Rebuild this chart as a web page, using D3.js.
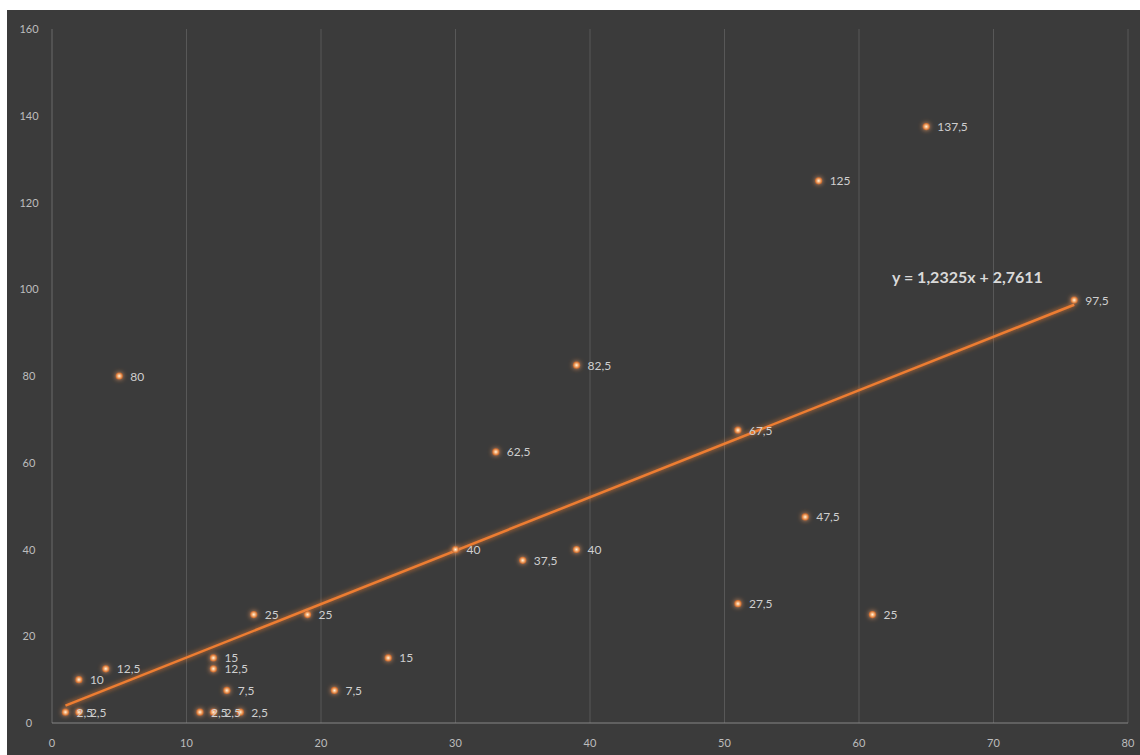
<!DOCTYPE html>
<html><head><meta charset="utf-8">
<script src="https://cdn.jsdelivr.net/npm/d3@7"></script>
<style>html,body{margin:0;padding:0;background:#fff;overflow:hidden}</style>
</head><body>
<svg id="c" width="1140" height="755"></svg>
<script>
const xValues = [1, 2, 2, 4, 5, 11, 12, 12, 12, 13, 14, 15, 19, 21, 25, 30, 33, 35, 39, 39, 51, 51, 56, 57, 61, 65, 76];
const yValues = [2.5, 2.5, 10, 12.5, 80, 2.5, 2.5, 15, 12.5, 7.5, 2.5, 25, 25, 7.5, 15, 40, 62.5, 37.5, 82.5, 40, 67.5, 27.5, 47.5, 125, 25, 137.5, 97.5];
const xTicks = [0, 10, 20, 30, 40, 50, 60, 70, 80];
const yTicks = [0, 20, 40, 60, 80, 100, 120, 140, 160];
const slope = 1.2325, intercept = 2.7611;
const equationLabel = "y = 1,2325x + 2,7611";

const svg = d3.select("#c");
const defs = svg.append("defs");
const glow = defs.append("filter").attr("id","glow").attr("x","-100%").attr("y","-100%").attr("width","300%").attr("height","300%");
glow.append("feGaussianBlur").attr("stdDeviation",2.5).attr("result","b");
const m = glow.append("feMerge"); m.append("feMergeNode").attr("in","b"); m.append("feMergeNode").attr("in","SourceGraphic");
const rg = defs.append("radialGradient").attr("id","dot");
rg.append("stop").attr("offset","0%").attr("stop-color","#fff4e0");
rg.append("stop").attr("offset","45%").attr("stop-color","#f6b27a");
rg.append("stop").attr("offset","100%").attr("stop-color","#c8601e");

svg.append("rect").attr("x",7).attr("y",10).attr("width",1133).attr("height",745).attr("fill","#3b3b3b");

const x = d3.scaleLinear().domain([0,80]).range([52,1128]);
const y = d3.scaleLinear().domain([0,160]).range([723,29]);

svg.append("g").selectAll("line").data(xTicks.filter(t=>t>0)).join("line")
  .attr("x1",d=>x(d)).attr("x2",d=>x(d)).attr("y1",y(160)).attr("y2",y(0))
  .attr("stroke","#585858").attr("stroke-width",1);
svg.append("line").attr("x1",x(0)).attr("x2",x(0)).attr("y1",y(160)).attr("y2",y(0)).attr("stroke","#6a6a6a");
svg.append("line").attr("x1",x(0)).attr("x2",x(80)).attr("y1",y(0)).attr("y2",y(0)).attr("stroke","#858585").attr("stroke-width",1.2);

const tickFont = "Lato, 'Liberation Sans', sans-serif";
svg.append("g").selectAll("text").data(xTicks).join("text")
  .attr("x",d=>x(d)).attr("y",747).attr("text-anchor","middle")
  .attr("font-family",tickFont).attr("font-size",11).attr("fill","#bdbdbd").text(d=>d);
svg.append("g").selectAll("text").data(yTicks).join("text")
  .attr("x",29).attr("y",d=>y(d)+4).attr("text-anchor","middle")
  .attr("font-family",tickFont).attr("font-size",11).attr("fill","#bdbdbd").text(d=>d);

const xMin = d3.min(xValues), xMax = d3.max(xValues);
svg.append("line")
  .attr("x1",x(xMin)).attr("y1",y(slope*xMin+intercept))
  .attr("x2",x(xMax)).attr("y2",y(slope*xMax+intercept))
  .attr("stroke","#ed7d31").attr("stroke-width",2.5).attr("filter","url(#glow)");

const pts = xValues.map((v,i)=>({x:v,y:yValues[i]}));
svg.append("g").selectAll("circle").data(pts).join("circle")
  .attr("cx",d=>x(d.x)).attr("cy",d=>y(d.y)).attr("r",3.6)
  .attr("fill","url(#dot)").attr("filter","url(#glow)");

svg.append("g").selectAll("text").data(pts).join("text")
  .attr("x",d=>x(d.x)+11).attr("y",d=>y(d.y)+4.5)
  .attr("font-family",tickFont).attr("font-size",12).attr("fill","#cfcfcf")
  .text(d=>String(d.y).replace(".",","));

svg.append("text").attr("x",892).attr("y",283)
  .attr("font-family",tickFont).attr("font-size",16).attr("font-weight","bold").attr("fill","#d9d9d9")
  .text(equationLabel);
</script>
</body></html>
